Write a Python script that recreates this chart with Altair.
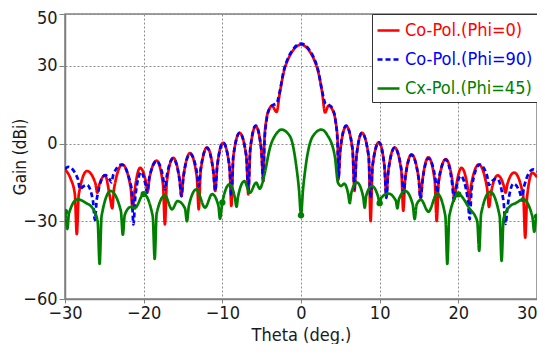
import altair as alt
import pandas as pd

FONT = "DejaVu Sans Condensed, Liberation Sans, sans-serif"

series_names = ["Co-Pol.(Phi=0)", "Co-Pol.(Phi=90)", "Cx-Pol.(Phi=45)"]
series_colors = ["#ff0000", "#0000ff", "#008000"]
series_dashes = [[1, 0], [5, 3], [1, 0]]

x_ticks = [-30, -20, -10, 0, 10, 20, 30]
y_ticks = [-60, -30, 0, 30, 50]

red_theta = [
    -30.0, -29.3, -28.75, -28.5,
    -28.25, -27.2, -26.15, -25.9,
    -25.65, -24.9, -24.25, -24.0,
    -23.75, -22.7, -21.65, -21.4,
    -21.15, -20.45, -19.75, -19.5,
    -19.25, -18.35, -17.55, -17.3,
    -17.05, -16.25, -15.45, -15.2,
    -14.95, -14.1, -13.25, -13.0,
    -12.75, -11.95, -11.15, -10.9,
    -10.65, -9.9, -9.1, -8.85,
    -8.6, -7.8, -6.95, -6.7,
    -6.45, -5.75, -5.05, -4.8,
    -4.65, -4.4, -4.0, -3.7, -3.1, -2.7, -2.2, -1.6, -1.0, -0.5, 0.0,
    0.5, 1.0, 1.6, 2.2, 2.7, 3.05, 3.5, 4.0, 4.4, 4.65, 4.75,
    5.0, 5.75, 6.55, 6.8,
    7.05, 7.75, 8.6, 8.85,
    9.1, 9.9, 10.6, 10.85,
    11.1, 11.9, 12.75, 13.0,
    13.25, 14.05, 14.95, 15.2,
    15.45, 16.2, 17.0, 17.25,
    17.5, 18.4, 19.25, 19.5,
    19.75, 20.4, 21.15, 21.4,
    21.65, 22.6, 23.65, 23.9,
    24.15, 25.0, 25.75, 26.0,
    26.25, 27.1, 28.25, 28.5,
    28.75, 29.4, 30.0]
red_gain = [
    -10.0, -13.5, -19.5, -35.0,
    -19.6, -10.6, -15.2, -19.0,
    -16.0, -12.3, -21.3, -25.0,
    -17.1, -8.1, -17.1, -25.4,
    -18.4, -9.4, -14.4, -18.5,
    -13.1, -6.6, -15.6, -31.2,
    -14.5, -5.5, -13.6, -20.3,
    -12.7, -3.7, -12.7, -25.4,
    -10.5, -1.5, -10.5, -18.3,
    -8.7, 0.3, -8.7, -24.1,
    -4.9, 4.1, -4.9, -19.6,
    -2.3, 6.7, -2.3, -14.5,
    1.5, 9.2, 13.5, 14.6, 12.2, 19.5, 27.5, 32.8, 36.0, 37.6, 38.2,
    37.6, 36.0, 32.8, 27.5, 19.5, 12.0, 14.6, 13.0, 8.5, 1.5, -13.8,
    -2.3, 6.7, -2.3, -18.3,
    -4.9, 4.1, -4.9, -30.0,
    -8.5, 0.5, -8.5, -20.0,
    -10.5, -1.5, -10.5, -26.0,
    -13.2, -4.2, -13.2, -21.0,
    -13.9, -5.3, -14.3, -29.9,
    -15.0, -6.0, -14.5, -21.5,
    -16.1, -9.4, -16.3, -22.0,
    -15.7, -8.1, -17.1, -24.5,
    -19.0, -12.3, -16.0, -19.0,
    -15.5, -11.2, -20.2, -36.3,
    -20.3, -11.3, -13.0]

blue_theta = [
    -30.0, -29.6, -28.35, -28.1,
    -27.85, -27.2, -26.45, -26.2,
    -25.95, -24.9, -24.35, -24.1,
    -23.85, -22.8, -21.55, -21.3,
    -21.05, -20.3, -19.8, -19.55,
    -19.3, -18.35, -17.55, -17.3,
    -17.05, -16.25, -15.45, -15.2,
    -14.95, -14.1, -13.25, -13.0,
    -12.75, -11.95, -11.15, -10.9,
    -10.65, -9.9, -9.1, -8.85,
    -8.6, -7.8, -6.95, -6.7,
    -6.45, -5.75, -5.05, -4.8,
    -4.65, -4.4, -4.0, -3.6, -3.1, -2.7, -2.2, -1.6, -1.0, -0.5, 0.0,
    0.5, 1.0, 1.6, 2.2, 2.7, 3.1, 3.6, 4.0, 4.4, 4.65, 4.75,
    5.0, 5.75, 6.55, 6.8,
    7.05, 7.75, 8.6, 8.85,
    9.1, 9.9, 10.6, 10.85,
    11.1, 11.9, 12.8, 13.05,
    13.3, 14.05, 14.95, 15.2,
    15.45, 16.2, 17.05, 17.3,
    17.55, 18.4, 19.2, 19.45,
    19.7, 20.3, 21.2, 21.45,
    21.7, 22.7, 23.65, 23.9,
    24.15, 24.9, 25.75, 26.0,
    26.25, 27.0, 27.85, 28.1,
    28.35, 29.5, 30.0]
blue_gain = [
    -9.8, -9.0, -13.8, -17.7,
    -17.0, -16.0, -22.0, -29.5,
    -21.2, -12.2, -13.7, -15.0,
    -11.9, -8.1, -17.1, -31.2,
    -20.0, -11.0, -15.4, -19.0,
    -13.5, -6.8, -12.8, -17.7,
    -12.3, -5.8, -13.8, -20.3,
    -13.0, -4.0, -10.8, -16.4,
    -9.8, -1.7, -10.7, -18.3,
    -8.7, 0.3, -8.7, -20.0,
    -4.9, 4.1, -4.9, -18.5,
    -2.1, 6.9, -2.1, -14.5,
    0.0, 8.5, 13.5, 14.8, 15.5, 20.0, 28.0, 33.3, 36.4, 38.0, 38.6,
    38.0, 36.4, 33.3, 28.0, 20.0, 15.5, 14.8, 13.5, 8.5, 0.0, -13.8,
    -2.1, 6.9, -2.1, -17.5,
    -4.9, 4.1, -4.9, -21.0,
    -8.5, 0.5, -8.5, -21.0,
    -10.7, -1.7, -10.7, -19.0,
    -12.4, -4.4, -13.4, -21.5,
    -14.4, -5.7, -13.0, -19.0,
    -13.2, -6.2, -15.2, -22.0,
    -17.7, -12.5, -21.5, -29.2,
    -17.1, -8.1, -12.4, -16.0,
    -14.9, -13.5, -22.5, -31.0,
    -24.5, -15.5, -19.1, -22.0,
    -16.6, -10.0, -10.8]

green_theta = [
    -30.0, -29.85, -29.7, -29.5, -28.4, -27.3, -26.6, -25.85, -25.6, -25.35,
    -24.2, -22.9, -22.65, -22.4, -21.65, -21.1, -20.0, -18.85, -18.6, -18.35,
    -17.3, -16.4, -15.7, -14.75, -14.5, -14.25, -13.3, -12.2, -11.3, -10.5,
    -10.3, -10.0, -9.1, -8.4, -8.2, -8.0, -7.2, -6.5, -5.7, -5.25,
    -4.6, -4.0, -3.0, -2.5, -1.4, -0.6, -0.25, 0.0,
    0.25, 0.6, 1.5, 2.6, 3.3, 4.3, 4.7, 5.1, 5.5, 6.0,
    6.2, 6.4, 7.1, 7.9, 8.1, 8.3, 9.0, 9.8, 10.0, 10.2,
    11.1, 12.05, 12.25, 12.45, 13.25, 14.2, 14.45, 14.7, 15.25, 16.2,
    17.3, 18.35, 18.6, 18.85, 20.0, 21.4, 22.4, 22.65, 22.9, 24.05,
    25.25, 25.5, 25.75, 26.6, 27.3, 28.25, 29.4, 29.65, 29.85, 30.0]
green_gain = [
    -26.4, -29.5, -33.0, -27.0, -21.5, -23.0, -24.5, -30.0, -46.5, -28.0,
    -18.3, -26.0, -35.2, -27.5, -24.5, -24.8, -19.5, -28.0, -44.5, -27.0,
    -20.0, -25.4, -22.2, -25.0, -30.0, -24.0, -17.7, -24.7, -19.5, -24.0,
    -29.0, -22.8, -15.8, -21.0, -24.4, -20.5, -14.5, -19.0, -15.1, -17.4,
    -11.3, -2.3, 4.3, 5.4, 2.8, -8.7, -18.0, -27.7,
    -18.0, -8.7, 2.8, 5.4, 3.5, -4.9, -15.1, -16.4, -15.5, -19.5,
    -23.0, -19.0, -15.0, -20.5, -24.7, -20.0, -16.4, -20.5, -23.0, -21.0,
    -19.3, -22.0, -25.0, -21.5, -18.3, -23.5, -29.2, -23.5, -21.7, -26.3,
    -19.3, -28.0, -46.5, -28.0, -19.6, -25.0, -30.0, -41.4, -27.0, -18.6,
    -28.0, -45.3, -29.0, -24.1, -23.0, -21.5, -28.0, -34.0, -29.5, -28.2]

marker_theta = [-30, -20, -10, 0, 10, 20, 30]
marker_gain = [-26.4, -19.5, -22.8, -27.7, -23.0, -19.6, -28.2]

rows = []
for name, th, gv in zip(series_names,
                        [red_theta, blue_theta, green_theta],
                        [red_gain, blue_gain, green_gain]):
    assert len(th) == len(gv), name
    for t, v in zip(th, gv):
        rows.append({"theta": t, "gain": v, "series": name})
df = pd.DataFrame(rows)
mk = pd.DataFrame({"theta": marker_theta, "gain": marker_gain})

xs = alt.Scale(domain=[-30, 30], nice=False, zero=False)
ys = alt.Scale(domain=[-60, 50], nice=False, zero=False)

x_axis = alt.Axis(values=x_ticks, title="Theta (deg.)", format="d",
                  labelPadding=1, tickSize=4, labelFlush=False,
                  labelAlign={"condition": {"test": "datum.value == 30", "value": "right"},
                              "value": "center"},
                  titleY=41, titleBaseline="alphabetic")
y_axis = alt.Axis(values=y_ticks, title="Gain (dBi)", format="d",
                  labelPadding=2, tickSize=6,
                  labelOffset={"condition": {"test": "datum.value == 50", "value": 4},
                               "value": 0},
                  titleX=-36, titleFontSize=17)

label_expr = ("datum.label == '" + series_names[0] + "' ? '" + series_colors[0] + "' : "
              "datum.label == '" + series_names[1] + "' ? '" + series_colors[1] + "' : '"
              + series_colors[2] + "'")

legend = alt.Legend(title=None, orient="top-right", offset=0, padding=4,
                    strokeColor="#333333", fillColor="white",
                    labelFont=FONT, labelFontSize=18, labelColor={"expr": label_expr},
                    labelLimit=300, labelOffset=4,
                    symbolType="stroke", symbolSize=484, symbolStrokeWidth=2.7,
                    rowPadding=7)

color = alt.Color("series:N", scale=alt.Scale(domain=series_names, range=series_colors),
                  legend=legend)
dash = alt.StrokeDash("series:N", scale=alt.Scale(domain=series_names, range=series_dashes),
                      legend=legend)

base = alt.Chart(df).encode(
    x=alt.X("theta:Q", scale=xs, axis=x_axis),
    y=alt.Y("gain:Q", scale=ys, axis=y_axis),
    color=color,
    strokeDash=dash,
)

layers = []
for name in series_names:
    layers.append(
        base.transform_filter(alt.datum.series == name)
        .mark_line(strokeWidth=2.7, clip=True, interpolate="monotone")
    )

pts = alt.Chart(mk).mark_circle(size=40, color="#008000", opacity=1, clip=True).encode(
    x=alt.X("theta:Q", scale=xs, axis=x_axis),
    y=alt.Y("gain:Q", scale=ys, axis=y_axis),
)

chart = (
    alt.layer(*layers, pts)
    .properties(width=472, height=285,
                autosize=alt.AutoSizeParams(type="none"),
                padding={"left": 57, "top": 6, "right": 0, "bottom": 45},
                background="white")
    .configure_view(stroke="#808080", strokeWidth=1.5)
    .configure_axis(
        labelFont=FONT, labelFontSize=18, labelColor="#1a1a1a",
        titleFont=FONT, titleFontSize=18, titleColor="#1a1a1a", titleFontWeight="normal",
        domainColor="#808080", domainWidth=1.5,
        tickColor="#808080",
        grid=True, gridColor="#8c8c8c", gridDash=[2, 2], gridWidth=1,
    )
)

chart.save("out.html", embed_options={"renderer": "svg", "actions": False})
